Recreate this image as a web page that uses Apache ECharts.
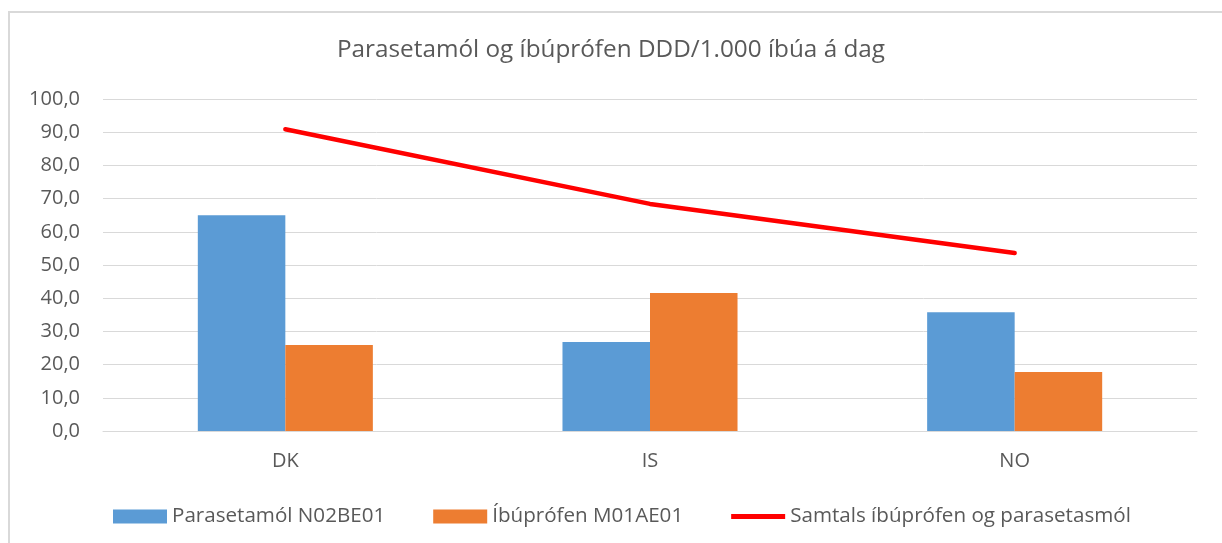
<!DOCTYPE html>
<html>
<head>
<meta charset="utf-8">
<script src="https://cdn.jsdelivr.net/npm/echarts@6/dist/echarts.min.js"></script>
<style>
  html, body { margin: 0; padding: 0; background: #fff; }
  #main { width: 1222px; height: 543px; }
  /* thin frame of the chart area, top and left only are visible */
  #frame { position: absolute; left: 8px; top: 11px; right: -10px; bottom: -10px;
           border-left: 2px solid #d9d9d9; border-top: 2px solid #d9d9d9; pointer-events: none; }
</style>
</head>
<body>
<div id="main"></div>
<div id="frame"></div>
<script>
const categories = ['DK', 'IS', 'NO'];
const parasetamol = [65.0, 26.8, 35.8];
const ibuprofen = [25.9, 41.6, 17.8];
const samtals = [90.9, 68.4, 53.6];
const yTicks = { min: 0, max: 100, interval: 10 };

const font = '"Open Sans", "Liberation Sans", sans-serif';
const chart = echarts.init(document.getElementById('main'));
chart.setOption({
  animation: false,
  textStyle: { fontFamily: font },
  title: {
    text: 'Parasetamól og íbúprófen DDD/1.000 íbúa á dag',
    left: 'center',
    top: 33,
    textStyle: { fontFamily: font, fontSize: 24.3, fontWeight: 'normal', color: '#595959' }
  },
  legend: {
    top: 501,
    left: 108,
    itemWidth: 54,
    itemHeight: 14,
    itemGap: 48,
    textStyle: { fontFamily: font, fontSize: 20.6, color: '#595959' },
    data: [
      { name: 'Parasetamól N02BE01', icon: 'rect' },
      { name: 'Íbúprófen M01AE01', icon: 'rect' },
      { name: 'Samtals íbúprófen og parasetasmól', icon: 'path://M0,0 H54 V5 H0 Z' }
    ]
  },
  grid: { left: 103, right: 25, top: 99, bottom: 112 },
  xAxis: {
    type: 'category',
    data: categories,
    axisLine: { lineStyle: { color: '#d9d9d9', width: 1 } },
    axisTick: { show: false },
    axisLabel: { fontFamily: font, fontSize: 20, color: '#595959', margin: 20 }
  },
  yAxis: {
    type: 'value',
    min: yTicks.min,
    max: yTicks.max,
    interval: yTicks.interval,
    axisLine: { show: false },
    axisTick: { show: false },
    splitLine: { lineStyle: { color: '#d9d9d9', width: 1 } },
    axisLabel: {
      fontFamily: font, fontSize: 20, color: '#595959', margin: 23,
      formatter: v => v.toFixed(1).replace('.', ',')
    }
  },
  series: [
    {
      name: 'Parasetamól N02BE01',
      type: 'bar',
      data: parasetamol,
      barGap: '0%',
      barCategoryGap: '52%',
      itemStyle: { color: '#5b9bd5' }
    },
    {
      name: 'Íbúprófen M01AE01',
      type: 'bar',
      data: ibuprofen,
      itemStyle: { color: '#ed7d31' }
    },
    {
      name: 'Samtals íbúprófen og parasetasmól',
      type: 'line',
      data: samtals,
      symbol: 'none',
      lineStyle: { color: '#ff0000', width: 4.5, cap: 'round' },
      itemStyle: { color: '#ff0000' }
    }
  ]
});
</script>
</body>
</html>
